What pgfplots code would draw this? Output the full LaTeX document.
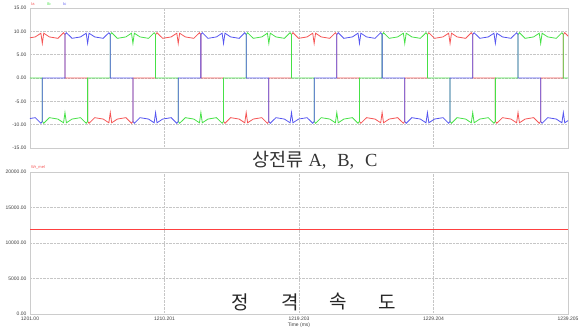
\documentclass[border=0pt]{standalone}
\usepackage{fontspec}
\setmainfont{Liberation Sans}
\newfontfamily\cjk{Noto Sans CJK KR}
\newfontfamily\serifLat{Liberation Serif}
\usepackage{pgfplots}
\pgfplotsset{compat=1.18}
\definecolor{ca}{RGB}{245,85,85}
\definecolor{cb}{RGB}{70,225,70}
\definecolor{cc}{RGB}{85,85,240}
\pgfplotsset{
  scopebase/.style={
    scale only axis, width=538pt, anchor=south west,
    xmin=1201, xmax=1239,
    xtick={1201,1210.5,1220,1229.5,1239},
    grid=major, grid style={densely dotted, gray!45, line width=0.4pt},
    axis line style={gray!40, line width=0.9pt},
    major tick length=0pt,
    tick label style={font=\fontsize{5}{5.5}\selectfont, text=black!75},
    /pgf/number format/assume math mode=true,
    scaled y ticks=false,
    y tick label style={/pgf/number format/fixed, /pgf/number format/fixed zerofill, /pgf/number format/precision=2, /pgf/number format/1000 sep={}},
    clip mode=individual,
  }
}
\begin{document}
\begin{tikzpicture}
\useasboundingbox (0pt,0pt) rectangle (580pt,336pt);
% ---------- top panel ----------
\begin{axis}[scopebase, at={(30pt,188pt)}, height=140pt,
  ymin=-15, ymax=15, ytick={-15,-10,-5,0,5,10,15},
  xticklabels={}]
\addplot[ca, line width=0.8pt] coordinates {
(1200.27,0)(1200.27,9.3)(1200.37,9.7)(1200.77,8.5)(1201.37,8.8)(1201.77,9.6)(1201.87,7.4)(1201.97,9.6)(1202.37,8.8)(1202.97,8.5)(1203.37,9.7)(1203.47,9.3)(1203.47,0)
(1205.07,0)(1205.07,-9.3)(1205.17,-9.7)(1205.57,-8.5)(1206.17,-8.8)(1206.57,-9.6)(1206.67,-7.4)(1206.77,-9.6)(1207.17,-8.8)(1207.77,-8.5)(1208.17,-9.7)(1208.27,-9.3)(1208.27,0)
(1209.87,0)(1209.87,9.3)(1209.97,9.7)(1210.37,8.5)(1210.97,8.8)(1211.37,9.6)(1211.47,7.4)(1211.57,9.6)(1211.97,8.8)(1212.57,8.5)(1212.97,9.7)(1213.07,9.3)(1213.07,0)
(1214.67,0)(1214.67,-9.3)(1214.77,-9.7)(1215.17,-8.5)(1215.77,-8.8)(1216.17,-9.6)(1216.27,-7.4)(1216.37,-9.6)(1216.77,-8.8)(1217.37,-8.5)(1217.77,-9.7)(1217.87,-9.3)(1217.87,0)
(1219.47,0)(1219.47,9.3)(1219.57,9.7)(1219.97,8.5)(1220.57,8.8)(1220.97,9.6)(1221.07,7.4)(1221.17,9.6)(1221.57,8.8)(1222.17,8.5)(1222.57,9.7)(1222.67,9.3)(1222.67,0)
(1224.27,0)(1224.27,-9.3)(1224.37,-9.7)(1224.77,-8.5)(1225.37,-8.8)(1225.77,-9.6)(1225.87,-7.4)(1225.97,-9.6)(1226.37,-8.8)(1226.97,-8.5)(1227.37,-9.7)(1227.47,-9.3)(1227.47,0)
(1229.07,0)(1229.07,9.3)(1229.17,9.7)(1229.57,8.5)(1230.17,8.8)(1230.57,9.6)(1230.67,7.4)(1230.77,9.6)(1231.17,8.8)(1231.77,8.5)(1232.17,9.7)(1232.27,9.3)(1232.27,0)
(1233.87,0)(1233.87,-9.3)(1233.97,-9.7)(1234.37,-8.5)(1234.97,-8.8)(1235.37,-9.6)(1235.47,-7.4)(1235.57,-9.6)(1235.97,-8.8)(1236.57,-8.5)(1236.97,-9.7)(1237.07,-9.3)(1237.07,0)
(1238.67,0)(1238.67,9.3)(1238.77,9.7)(1239.17,8.5)
};
\addplot[cb, line width=0.8pt] coordinates {
(1200,0)
(1201.87,0)(1201.87,-9.3)(1201.97,-9.7)(1202.37,-8.5)(1202.97,-8.8)(1203.37,-9.6)(1203.47,-7.4)(1203.57,-9.6)(1203.97,-8.8)(1204.57,-8.5)(1204.97,-9.7)(1205.07,-9.3)(1205.07,0)
(1206.67,0)(1206.67,9.3)(1206.77,9.7)(1207.17,8.5)(1207.77,8.8)(1208.17,9.6)(1208.27,7.4)(1208.37,9.6)(1208.77,8.8)(1209.37,8.5)(1209.77,9.7)(1209.87,9.3)(1209.87,0)
(1211.47,0)(1211.47,-9.3)(1211.57,-9.7)(1211.97,-8.5)(1212.57,-8.8)(1212.97,-9.6)(1213.07,-7.4)(1213.17,-9.6)(1213.57,-8.8)(1214.17,-8.5)(1214.57,-9.7)(1214.67,-9.3)(1214.67,0)
(1216.27,0)(1216.27,9.3)(1216.37,9.7)(1216.77,8.5)(1217.37,8.8)(1217.77,9.6)(1217.87,7.4)(1217.97,9.6)(1218.37,8.8)(1218.97,8.5)(1219.37,9.7)(1219.47,9.3)(1219.47,0)
(1221.07,0)(1221.07,-9.3)(1221.17,-9.7)(1221.57,-8.5)(1222.17,-8.8)(1222.57,-9.6)(1222.67,-7.4)(1222.77,-9.6)(1223.17,-8.8)(1223.77,-8.5)(1224.17,-9.7)(1224.27,-9.3)(1224.27,0)
(1225.87,0)(1225.87,9.3)(1225.97,9.7)(1226.37,8.5)(1226.97,8.8)(1227.37,9.6)(1227.47,7.4)(1227.57,9.6)(1227.97,8.8)(1228.57,8.5)(1228.97,9.7)(1229.07,9.3)(1229.07,0)
(1230.67,0)(1230.67,-9.3)(1230.77,-9.7)(1231.17,-8.5)(1231.77,-8.8)(1232.17,-9.6)(1232.27,-7.4)(1232.37,-9.6)(1232.77,-8.8)(1233.37,-8.5)(1233.77,-9.7)(1233.87,-9.3)(1233.87,0)
(1235.47,0)(1235.47,9.3)(1235.57,9.7)(1235.97,8.5)(1236.57,8.8)(1236.97,9.6)(1237.07,7.4)(1237.17,9.6)(1237.57,8.8)(1238.17,8.5)(1238.57,9.7)(1238.67,9.3)(1238.67,0)
(1240,0)
};
\addplot[cc, line width=0.8pt] coordinates {
(1199.77,-8.8)(1200.17,-9.6)(1200.27,-7.4)(1200.37,-9.6)(1200.77,-8.8)(1201.37,-8.5)(1201.77,-9.7)(1201.87,-9.3)(1201.87,0)
(1203.47,0)(1203.47,9.3)(1203.57,9.7)(1203.97,8.5)(1204.57,8.8)(1204.97,9.6)(1205.07,7.4)(1205.17,9.6)(1205.57,8.8)(1206.17,8.5)(1206.57,9.7)(1206.67,9.3)(1206.67,0)
(1208.27,0)(1208.27,-9.3)(1208.37,-9.7)(1208.77,-8.5)(1209.37,-8.8)(1209.77,-9.6)(1209.87,-7.4)(1209.97,-9.6)(1210.37,-8.8)(1210.97,-8.5)(1211.37,-9.7)(1211.47,-9.3)(1211.47,0)
(1213.07,0)(1213.07,9.3)(1213.17,9.7)(1213.57,8.5)(1214.17,8.8)(1214.57,9.6)(1214.67,7.4)(1214.77,9.6)(1215.17,8.8)(1215.77,8.5)(1216.17,9.7)(1216.27,9.3)(1216.27,0)
(1217.87,0)(1217.87,-9.3)(1217.97,-9.7)(1218.37,-8.5)(1218.97,-8.8)(1219.37,-9.6)(1219.47,-7.4)(1219.57,-9.6)(1219.97,-8.8)(1220.57,-8.5)(1220.97,-9.7)(1221.07,-9.3)(1221.07,0)
(1222.67,0)(1222.67,9.3)(1222.77,9.7)(1223.17,8.5)(1223.77,8.8)(1224.17,9.6)(1224.27,7.4)(1224.37,9.6)(1224.77,8.8)(1225.37,8.5)(1225.77,9.7)(1225.87,9.3)(1225.87,0)
(1227.47,0)(1227.47,-9.3)(1227.57,-9.7)(1227.97,-8.5)(1228.57,-8.8)(1228.97,-9.6)(1229.07,-7.4)(1229.17,-9.6)(1229.57,-8.8)(1230.17,-8.5)(1230.57,-9.7)(1230.67,-9.3)(1230.67,0)
(1232.27,0)(1232.27,9.3)(1232.37,9.7)(1232.77,8.5)(1233.37,8.8)(1233.77,9.6)(1233.87,7.4)(1233.97,9.6)(1234.37,8.8)(1234.97,8.5)(1235.37,9.7)(1235.47,9.3)(1235.47,0)
(1237.07,0)(1237.07,-9.3)(1237.17,-9.7)(1237.57,-8.5)(1238.17,-8.8)(1238.57,-9.6)(1238.67,-7.4)(1238.77,-9.6)(1239.17,-8.8)
};
\node[anchor=south west, inner sep=0pt, text=ca, font=\fontsize{4}{4}\selectfont] at (rel axis cs:0,1) [xshift=1pt, yshift=2.5pt] {Ia};
\node[anchor=south west, inner sep=0pt, text=cb, font=\fontsize{4}{4}\selectfont] at (rel axis cs:0,1) [xshift=17pt, yshift=2.5pt] {Ib};
\node[anchor=south west, inner sep=0pt, text=cc, font=\fontsize{4}{4}\selectfont] at (rel axis cs:0,1) [xshift=33pt, yshift=2.5pt] {Ic};
\node[anchor=center, inner sep=0pt, text=black!80] at (rel axis cs:0.53,0) [yshift=-12.5pt] {\fontsize{18.5}{18.5}\selectfont\cjk 상전류\serifLat{} A,\,\, B,\,\, C};
\end{axis}
% ---------- bottom panel ----------
\begin{axis}[scopebase, at={(30pt,22pt)}, height=142pt,
  ymin=0, ymax=20000, ytick={0,5000,10000,15000,20000},
  xticklabels={1201.00,1210.201,1219.203,1229.204,1239.205},
  x tick label style={yshift=1pt},
  xlabel={Time (ms)},
  xlabel style={font=\fontsize{5}{5.5}\selectfont, text=black!75, yshift=4pt}]
\addplot[red!75!white, mark=none, line width=1.2pt] table[row sep=\\] {
x y\\
1201 11900\\
1210 11900\\
1220 11900\\
1230 11900\\
1239 11900\\
};
\node[anchor=south west, inner sep=0pt, text=ca, font=\fontsize{4}{4}\selectfont] at (rel axis cs:0,1) [xshift=1pt, yshift=2.5pt] {Wr\_mel};
\node[text=black!85, inner sep=0pt] at (rel axis cs:0.390,0.085) {\fontsize{19}{19}\selectfont\cjk 정};
\node[text=black!85, inner sep=0pt] at (rel axis cs:0.483,0.085) {\fontsize{19}{19}\selectfont\cjk 격};
\node[text=black!85, inner sep=0pt] at (rel axis cs:0.572,0.085) {\fontsize{19}{19}\selectfont\cjk 속};
\node[text=black!85, inner sep=0pt] at (rel axis cs:0.664,0.085) {\fontsize{19}{19}\selectfont\cjk 도};
\end{axis}
\end{tikzpicture}
\end{document}
